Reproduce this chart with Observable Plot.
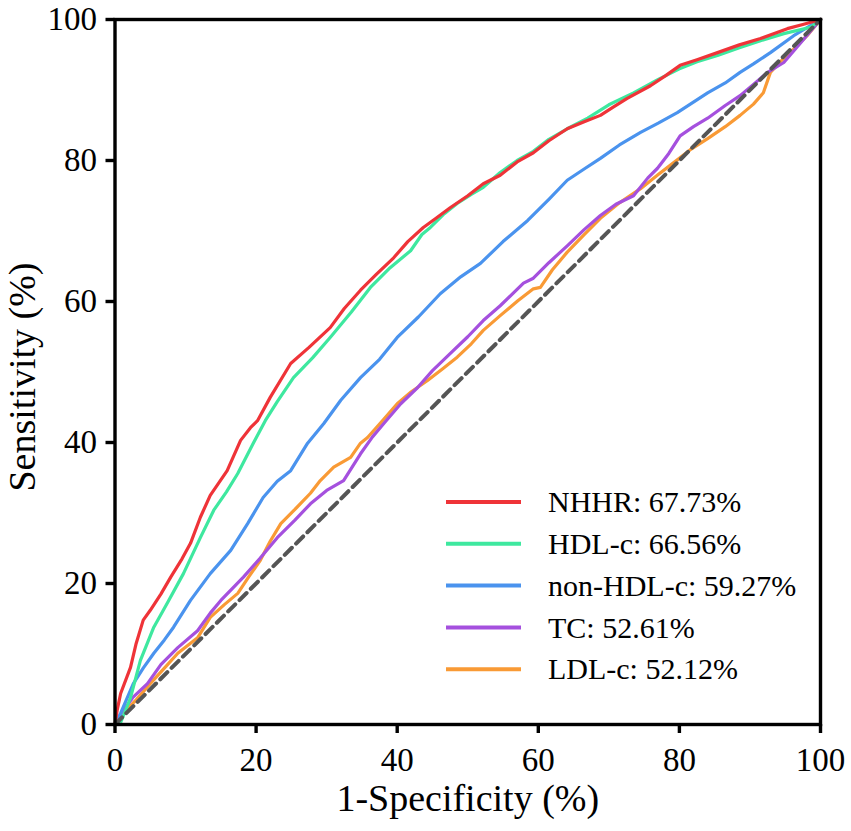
<!DOCTYPE html>
<html>
<head>
<meta charset="utf-8">
<script src="https://cdn.jsdelivr.net/npm/d3@7"></script>
<script src="https://cdn.jsdelivr.net/npm/@observablehq/plot@0.6"></script>
<style>
  html, body { margin: 0; padding: 0; background: white; }
</style>
</head>
<body>
<div id="chart"></div>
<script>
// ROC curves, [1-specificity %, sensitivity %]
var nhhr = [[0,0],[0.3,2.0],[0.8,4.4],[2.2,8.1],[3.0,11.5],[4.0,14.8],[5.0,16.2],[6.5,18.5],[7.9,20.9],[9.5,23.5],[10.7,25.7],[12.1,29.4],[13.5,32.5],[15.9,36.0],[17.8,40.3],[19.2,42.1],[20.2,43.1],[22.0,46.4],[24.9,51.2],[27.5,53.5],[30.5,56.3],[32.5,59.0],[34.8,61.6],[37.0,63.8],[39.5,66.2],[41.5,68.5],[43.7,70.5],[45.5,71.8],[47.5,73.3],[50.0,75.0],[52.2,76.7],[54.6,77.9],[57.0,79.8],[59.3,81.1],[61.5,82.8],[64.1,84.5],[66.5,85.5],[68.8,86.4],[70.5,87.5],[72.6,88.8],[75.9,90.6],[78.0,92.0],[80.1,93.5],[82.5,94.3],[85.4,95.3],[88.5,96.4],[91.5,97.3],[95.3,98.7],[97.5,99.3],[100,100]];
var hdl = [[0,0],[0.8,0.3],[1.5,2.0],[2.2,3.8],[3.6,9.1],[5.5,13.8],[7.4,17.2],[9.7,21.4],[12.1,26.5],[14.0,30.4],[15.8,33.0],[17.4,35.6],[19.6,39.9],[21.3,43.1],[23.0,45.8],[25.3,49.2],[28.0,52.0],[30.5,54.9],[33.5,58.5],[36.2,62.0],[39.0,64.8],[41.9,67.2],[43.5,69.5],[44.7,70.5],[46.5,72.3],[48.5,73.9],[50.5,75.2],[52.2,76.2],[54.6,78.3],[57.0,80.0],[59.3,81.3],[61.5,83.0],[64.1,84.5],[67.0,86.0],[70.0,87.9],[73.5,89.6],[77.0,91.5],[80.0,93.0],[82.5,94.0],[85.4,94.9],[88.5,96.0],[91.5,97.0],[94.8,98.0],[98.6,98.9],[100,100]];
var nonHdl = [[0,0],[0.8,1.6],[2.6,5.8],[4.0,8.0],[5.5,10.1],[7.0,12.0],[8.3,13.8],[10.7,17.6],[13.5,21.4],[16.4,24.7],[18.8,28.5],[21.0,32.2],[23.0,34.5],[24.9,36.0],[27.3,39.9],[29.6,42.7],[32.0,46.0],[34.8,49.2],[37.5,51.8],[40.0,54.9],[43.0,57.8],[46.1,61.1],[49.0,63.5],[51.8,65.4],[55.0,68.5],[58.5,71.5],[61.5,74.5],[64.1,77.2],[66.5,78.8],[68.8,80.3],[71.5,82.2],[74.5,84.0],[77.0,85.3],[79.7,86.8],[84.0,89.6],[86.5,91.0],[88.6,92.5],[90.5,93.7],[92.9,95.3],[96.2,97.7],[100,100]];
var tc = [[0,0],[1.2,2.0],[2.5,3.8],[4.6,5.8],[6.5,8.5],[8.9,10.9],[11.7,13.3],[13.5,15.8],[15.0,17.6],[18.2,20.9],[20.5,23.5],[23.0,26.5],[25.5,29.0],[27.7,31.3],[30.0,33.2],[32.4,34.6],[34.8,38.4],[36.5,40.8],[38.1,42.7],[40.5,45.5],[42.9,47.8],[45.0,50.2],[47.5,52.6],[50.0,55.0],[52.2,57.3],[54.6,59.4],[57.9,62.6],[59.3,63.3],[61.5,65.5],[64.1,67.9],[66.5,70.2],[68.8,72.2],[71.0,73.8],[73.5,75.0],[75.5,77.5],[76.9,78.9],[78.5,81.0],[80.1,83.5],[82.0,84.8],[84.0,86.0],[86.5,87.8],[88.6,89.2],[90.5,90.8],[92.5,92.5],[94.8,93.9],[97.2,96.7],[100,100]];
var ldl = [[0,0],[1.2,1.6],[3.0,3.5],[5.0,5.8],[7.0,8.0],[8.9,10.1],[11.7,12.3],[13.5,15.2],[15.5,17.0],[17.4,18.6],[19.0,21.0],[20.6,23.3],[22.0,26.0],[23.5,28.5],[25.5,30.5],[27.7,32.8],[29.1,34.6],[31.0,36.5],[33.4,37.9],[34.8,39.9],[35.8,40.7],[38.0,43.2],[40.0,45.5],[42.0,47.2],[44.3,48.8],[46.5,50.5],[48.5,52.1],[50.5,54.0],[52.2,55.9],[54.6,58.0],[57.1,60.1],[59.3,61.8],[60.3,62.0],[62.0,64.5],[64.1,67.0],[66.5,69.5],[68.8,71.8],[71.5,74.0],[74.5,76.0],[77.0,78.0],[79.2,79.7],[81.5,81.5],[84.0,83.1],[86.5,84.8],[88.6,86.4],[90.5,88.0],[91.9,89.6],[92.9,92.5],[94.5,94.2],[95.7,95.3],[98.1,97.7],[100,100]];
var diagonal = [[0,0],[100,100]];

var names = ["NHHR", "HDL-c", "non-HDL-c", "TC", "LDL-c"];
var aucs = ["67.73%", "66.56%", "59.27%", "52.61%", "52.12%"];
var colors = ["#ef3338", "#3ee89f", "#4a93ee", "#a550de", "#f99a35"];
var curves = [nhhr, hdl, nonHdl, tc, ldl];
var ticks = [0, 20, 40, 60, 80, 100];

var W = 851, H = 831;
var mLeft = 114.5, mRight = 31, mTop = 19, mBottom = 107;
var serif = "Liberation Serif, Times New Roman, serif";

// draw bottom curve first so red ends on top
var lineMarks = [];
for (var i = curves.length - 1; i >= 0; i--) {
  lineMarks.push(Plot.line(curves[i], {x: d => d[0], y: d => d[1], stroke: colors[i], strokeWidth: 3.2}));
}

var plot = Plot.plot({
  width: W,
  height: H,
  marginLeft: mLeft,
  marginRight: mRight,
  marginTop: mTop,
  marginBottom: mBottom,
  style: {fontFamily: serif, background: "white", color: "black"},
  x: {domain: [0, 100]},
  y: {domain: [0, 100]},
  marks: [
    ...lineMarks,
    Plot.line(diagonal, {x: d => d[0], y: d => d[1], stroke: "#555", strokeWidth: 4, strokeDasharray: "10,6"}),
    Plot.frame({stroke: "black", strokeWidth: 3.4}),
    Plot.axisX({ticks: ticks, tickSize: 9, tickPadding: 14, fontSize: 33, strokeWidth: 3.4, label: null}),
    Plot.axisY({ticks: ticks, tickSize: 9, tickPadding: 9, fontSize: 33, strokeWidth: 3.4, label: null}),
    Plot.text(["1-Specificity (%)"], {frameAnchor: "bottom", lineAnchor: "middle", dy: 74, fontSize: 38}),
    Plot.text(["Sensitivity (%)"], {frameAnchor: "left", textAnchor: "middle", lineAnchor: "middle", dx: -92, dy: 5, rotate: -90, fontSize: 38})
  ]
});

// legend in the lower right of the frame
var legend = d3.select(plot).append("g")
  .attr("text-anchor", "start")
  .attr("font-family", serif);
names.forEach(function(n, i) {
  var yy = 502 + i * 41.8;
  legend.append("line")
    .attr("x1", 446).attr("x2", 521).attr("y1", yy).attr("y2", yy)
    .attr("stroke", colors[i]).attr("stroke-width", 4);
  legend.append("text")
    .attr("x", 548).attr("y", yy).attr("dy", "0.34em")
    .attr("font-size", 30).attr("fill", "black")
    .text(n + ": " + aucs[i]);
});

document.getElementById("chart").appendChild(plot);
</script>
</body>
</html>
